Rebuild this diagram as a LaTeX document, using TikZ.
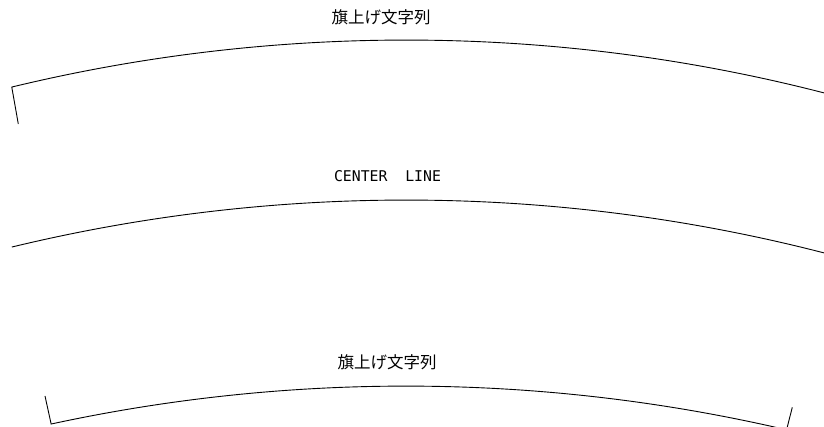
\documentclass[tikz,border=0pt]{standalone}
\usepackage{fontspec}
\setmainfont{Liberation Sans}
\newfontfamily\jpfont{Noto Sans CJK JP}
\newfontfamily\ejefont{DejaVu Sans Mono}
\tikzset{
  linea/.style={line width=0.9pt},
  bandera/.style={inner sep=0pt, font=\jpfont\fontsize{16.5}{18}\selectfont},
  rotulo/.style={inner sep=0pt, font=\ejefont\fontsize{14.8}{16}\selectfont}
}
\begin{document}
\begin{tikzpicture}[x=1pt, y=1pt]
    % Marco
    \useasboundingbox (0,0) rectangle (824,427);
    \clip (0,0) rectangle (824,427);
    % Centros de los arcos
    \coordinate (O1) at (406,-1291);
    \coordinate (O2) at (406,-1451);
    \coordinate (O3) at (406,-1637);
    % Arco superior con marca
    \draw[linea] (18.3,303) -- ([shift={(103.59:1678)}]O1)
        arc[start angle=103.59, end angle=75, radius=1678];
    % Linea central
    \draw[linea] ([shift={(103.59:1678)}]O2)
        arc[start angle=103.59, end angle=75, radius=1678];
    % Arco inferior con marcas
    \draw[linea] (45,31) -- ([shift={(102.21:1678)}]O3)
        arc[start angle=102.21, end angle=76.89, radius=1678] -- (792.3,19.7);
    % Etiquetas
    \node[bandera] (flagtop) at (381,410) {旗上げ文字列};
    \node[rotulo] (center) at (387.5,251) {CENTER\ \ LINE};
    \node[bandera] (flagbottom) at (387,65) {旗上げ文字列};
\end{tikzpicture}
\end{document}
